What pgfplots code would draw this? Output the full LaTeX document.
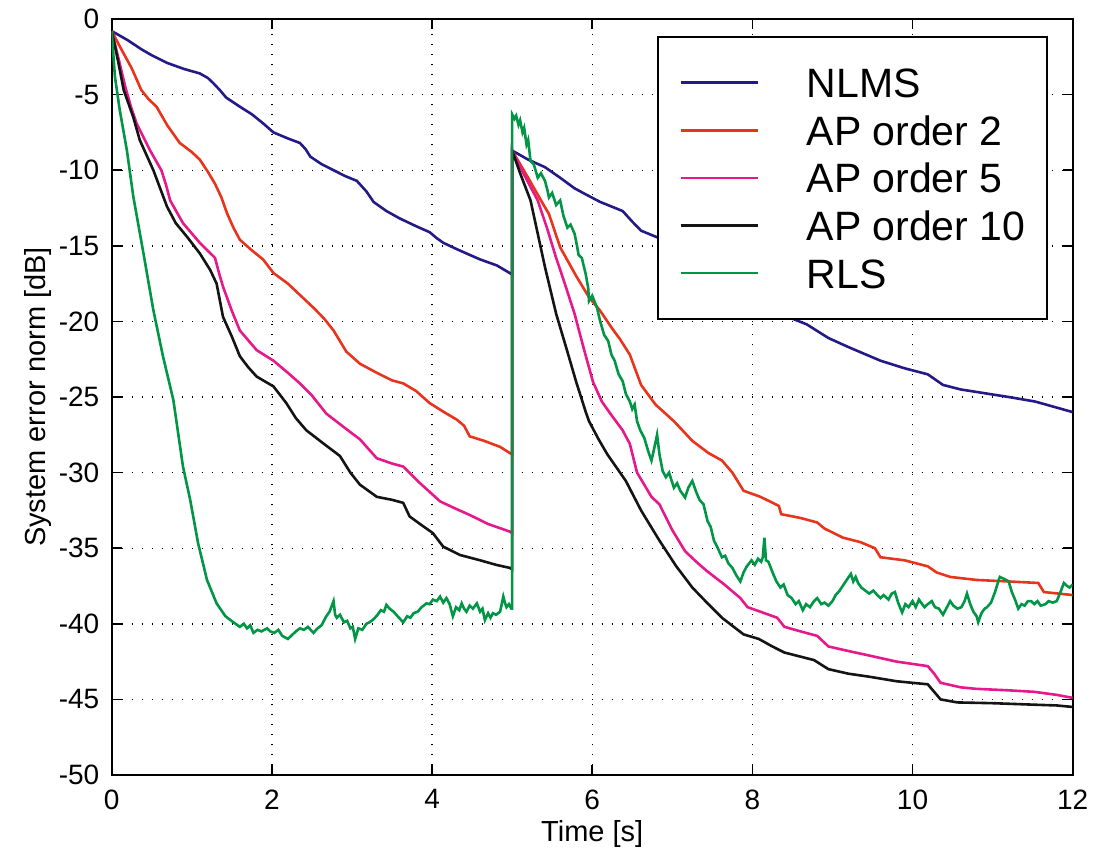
\documentclass[border=0pt]{standalone}
\usepackage{fontspec}
\setmainfont{Liberation Sans}
\usepackage{pgfplots}
\pgfplotsset{compat=1.18}
\definecolor{cNLMS}{RGB}{35,25,135}
\definecolor{cAPtwo}{RGB}{232,52,28}
\definecolor{cAPfive}{RGB}{230,25,140}
\definecolor{cAPten}{RGB}{20,20,20}
\definecolor{cRLS}{RGB}{0,150,70}
\begin{document}
\begin{tikzpicture}
\useasboundingbox (-55.85pt,-39pt) rectangle (492.65pt,387.5pt);
\begin{axis}[
  at={(0,0)}, anchor=south west,
  width=480.5pt, height=378pt, scale only axis,
  xmin=0, xmax=12, ymin=-50, ymax=0,
  xtick={0,2,4,6,8,10,12},
  xticklabels={0,2,4,6,8,10,12},
  ytick={-50,-45,-40,-35,-30,-25,-20,-15,-10,-5,0},
  yticklabels={-50,-45,-40,-35,-30,-25,-20,-15,-10,-5,0},
  tick align=inside, major tick length=5pt,
  tick style={black, line width=0.8pt},
  axis line style={black, line width=1pt},
  grid=major,
  major grid style={black, line width=0.7pt, dash pattern=on 0.7pt off 4.3pt},
  ticklabel style={font=\fontsize{14}{16}\selectfont},
  xticklabel style={yshift=-3.8pt},
  yticklabel style={xshift=-2.7pt},
  xlabel={Time [s]},
  ylabel={System error norm [dB]},
  label style={font=\fontsize{14.5}{17}\selectfont},
  xlabel style={at={(axis description cs:0.5,-0.0886)}, anchor=base},
  ylabel style={at={(axis description cs:-0.0694,0.5)}, anchor=base},
  legend image code/.code={\draw[#1] (0pt,0pt) -- (38.5pt,0pt); \path[draw=none,fill=none] (0pt,0pt) -- (63pt,0pt);},
  legend cell align=left,
  legend style={at={(axis cs:11.69,-1.12)}, anchor=north east, draw=black, line width=0.8pt, fill=white,
    inner xsep=10.8pt, inner ysep=15pt, row sep=7.8pt,
    font=\fontsize{20.5}{24}\selectfont,
    nodes={inner sep=0pt, text height=15.5pt, text depth=0.5pt}},
  every axis plot/.append style={line width=1.3pt},
]
\addplot[cNLMS] coordinates {
(0,-0.8) (0.2,-1.4) (0.37,-2.0) (0.5,-2.4) (0.69,-2.9) (0.9,-3.3) (1.1,-3.6) (1.2,-3.9) (1.27,-4.25) (1.35,-4.7) (1.43,-5.2) (1.6,-5.8) (1.75,-6.3) (1.89,-6.9) (2.02,-7.5) (2.2,-7.9) (2.35,-8.2) (2.42,-8.6) (2.48,-9.1) (2.62,-9.6) (2.77,-10.0) (2.92,-10.4) (3.06,-10.7) (3.18,-11.4) (3.27,-12.1) (3.43,-12.7) (3.6,-13.2) (3.8,-13.7) (3.97,-14.1) (4.06,-14.5) (4.14,-14.8) (4.3,-15.2) (4.47,-15.6) (4.6,-15.9) (4.81,-16.3) (4.97,-16.8) (5.0,-16.9)
(5.0,-8.7) (5.2,-9.3) (5.41,-9.8) (5.6,-10.5) (5.78,-11.2) (5.92,-11.6) (6.1,-12.1) (6.24,-12.4) (6.38,-12.7) (6.5,-13.4) (6.61,-14.0) (6.84,-14.5) (7.2,-15.5) (7.6,-17.0) (8.0,-18.4) (8.35,-19.5) (8.68,-20.2) (8.95,-21.1) (9.2,-21.7) (9.6,-22.6) (9.9,-23.1) (10.19,-23.5) (10.38,-24.2) (10.6,-24.5) (10.84,-24.7) (11.2,-25.0) (11.53,-25.3) (11.8,-25.7) (12,-26.0)
};
\addlegendentry{NLMS}
\addplot[cAPtwo] coordinates {
(0,-0.8) (0.12,-2.0) (0.25,-3.26) (0.37,-4.7) (0.46,-5.3) (0.56,-5.8) (0.69,-7.0) (0.85,-8.2) (1.0,-8.8) (1.1,-9.3) (1.2,-10.1) (1.29,-10.9) (1.37,-11.8) (1.44,-12.85) (1.52,-13.8) (1.6,-14.6) (1.75,-15.3) (1.89,-15.9) (2.02,-16.8) (2.2,-17.5) (2.35,-18.25) (2.52,-19.1) (2.65,-19.8) (2.77,-20.6) (2.85,-21.3) (2.93,-22.0) (3.1,-22.8) (3.31,-23.4) (3.5,-23.9) (3.64,-24.1) (3.8,-24.6) (3.97,-25.4) (4.15,-26.0) (4.31,-26.5) (4.4,-26.9) (4.47,-27.6) (4.65,-27.9) (4.85,-28.3) (4.97,-28.7) (5.0,-28.8)
(5.0,-8.7) (5.2,-10.5) (5.35,-11.9) (5.46,-12.9) (5.6,-15.1) (5.8,-17.0) (5.96,-18.4) (6.1,-19.3) (6.24,-20.4) (6.35,-21.2) (6.47,-22.2) (6.54,-23.2) (6.61,-24.2) (6.79,-25.5) (7.02,-26.6) (7.25,-27.9) (7.45,-28.7) (7.62,-29.2) (7.75,-30.0) (7.89,-31.2) (8.1,-31.6) (8.33,-32.2) (8.36,-32.75) (8.6,-33.0) (8.81,-33.3) (8.9,-33.7) (9.13,-34.3) (9.35,-34.6) (9.53,-35.0) (9.6,-35.6) (9.9,-35.8) (10.19,-36.2) (10.3,-36.6) (10.47,-36.9) (10.8,-37.1) (11.2,-37.2) (11.57,-37.3) (11.64,-37.9) (12,-38.1)
};
\addlegendentry{AP order 2}
\addplot[cAPfive] coordinates {
(0,-0.8) (0.08,-2.5) (0.17,-4.5) (0.24,-5.8) (0.31,-6.9) (0.48,-8.7) (0.62,-10.0) (0.68,-11.0) (0.73,-12.0) (0.89,-13.5) (1.1,-14.8) (1.29,-15.8) (1.34,-16.8) (1.39,-17.7) (1.5,-19.3) (1.6,-20.6) (1.81,-21.9) (2.02,-22.6) (2.2,-23.4) (2.35,-24.1) (2.5,-24.9) (2.68,-26.1) (2.9,-27.0) (3.1,-27.8) (3.31,-29.05) (3.5,-29.4) (3.64,-29.6) (3.85,-30.7) (4.1,-31.9) (4.3,-32.4) (4.47,-32.8) (4.7,-33.4) (4.97,-33.9) (5.0,-34.0)
(5.0,-8.7) (5.15,-10.3) (5.32,-12.0) (5.44,-13.9) (5.55,-15.8) (5.67,-17.7) (5.78,-19.5) (5.9,-21.9) (6.01,-24.0) (6.12,-25.3) (6.24,-26.2) (6.38,-27.2) (6.47,-28.1) (6.56,-30.0) (6.74,-31.6) (6.84,-32.1) (7.0,-33.8) (7.16,-35.2) (7.3,-35.9) (7.43,-36.5) (7.65,-37.4) (7.85,-38.3) (7.94,-38.9) (8.1,-39.2) (8.31,-39.6) (8.4,-40.2) (8.6,-40.5) (8.81,-40.8) (8.95,-41.5) (9.2,-41.8) (9.46,-42.1) (9.8,-42.5) (10.19,-42.8) (10.27,-43.3) (10.35,-43.9) (10.6,-44.2) (10.79,-44.3) (11.2,-44.4) (11.52,-44.5) (11.8,-44.7) (12,-44.9)
};
\addlegendentry{AP order 5}
\addplot[cAPten] coordinates {
(0,-0.8) (0.08,-2.8) (0.15,-4.7) (0.27,-6.5) (0.35,-8.0) (0.52,-10.0) (0.69,-12.4) (0.8,-13.5) (0.94,-14.4) (1.1,-15.5) (1.23,-16.6) (1.31,-17.5) (1.39,-19.7) (1.5,-21.0) (1.6,-22.3) (1.7,-23.0) (1.81,-23.65) (2.02,-24.3) (2.18,-25.4) (2.3,-26.4) (2.43,-27.2) (2.65,-28.1) (2.85,-28.9) (2.98,-30.0) (3.1,-30.8) (3.31,-31.6) (3.5,-31.8) (3.64,-32.0) (3.72,-32.9) (3.85,-33.4) (4.01,-34.0) (4.14,-34.9) (4.35,-35.45) (4.6,-35.8) (4.8,-36.1) (4.97,-36.3) (5.0,-36.4)
(5.0,-8.7) (5.1,-10.2) (5.23,-12.0) (5.32,-14.2) (5.41,-16.4) (5.55,-19.5) (5.69,-22.0) (5.8,-24.0) (5.92,-26.0) (5.96,-26.6) (6.08,-27.8) (6.19,-28.8) (6.42,-30.55) (6.61,-32.5) (6.84,-34.5) (7.05,-36.2) (7.25,-37.6) (7.45,-38.7) (7.62,-39.6) (7.89,-40.7) (8.08,-41.0) (8.25,-41.5) (8.4,-41.9) (8.77,-42.4) (8.95,-43.0) (9.2,-43.3) (9.46,-43.5) (9.8,-43.8) (10.19,-44.0) (10.27,-44.5) (10.35,-45.0) (10.56,-45.2) (11.0,-45.25) (11.52,-45.35) (11.8,-45.4) (12,-45.5)
};
\addlegendentry{AP order 10}
\addplot[cRLS] coordinates {
(0,-0.8) (0.04,-3.8) (0.1,-6.0) (0.19,-8.7) (0.27,-11.75) (0.39,-15.3) (0.52,-19.25) (0.64,-22.3) (0.77,-25.2) (0.89,-29.6) (0.98,-31.8) (1.08,-34.7) (1.19,-37.1) (1.31,-38.65) (1.42,-39.5) (1.52,-39.9) (1.6,-40.2) (1.65,-40.0) (1.69,-40.3) (1.73,-40.1) (1.77,-40.6) (1.82,-40.4) (1.87,-40.5) (1.94,-40.3) (1.98,-40.5) (2.03,-40.6) (2.08,-40.4) (2.13,-40.8) (2.2,-41.0) (2.26,-40.7) (2.3,-40.5) (2.35,-40.3) (2.4,-40.4) (2.45,-40.2) (2.52,-40.6) (2.57,-40.3) (2.62,-40.1) (2.68,-39.5) (2.72,-39.2) (2.77,-38.5) (2.79,-39.4) (2.81,-39.6) (2.85,-39.4) (2.9,-39.9) (2.94,-39.8) (2.98,-40.3) (3.01,-40.2) (3.04,-41.0) (3.08,-40.3) (3.13,-40.4) (3.18,-40.0) (3.22,-39.9) (3.27,-39.7) (3.32,-39.4) (3.36,-39.1) (3.4,-39.2) (3.43,-38.75) (3.47,-39.0) (3.52,-39.2) (3.57,-39.5) (3.64,-39.9) (3.69,-39.5) (3.73,-39.6) (3.77,-39.3) (3.82,-39.2) (3.87,-38.9) (3.93,-38.65) (3.97,-38.7) (4.01,-38.4) (4.06,-38.5) (4.1,-38.2) (4.14,-38.6) (4.18,-38.3) (4.22,-38.7) (4.26,-39.5) (4.3,-38.9) (4.34,-39.1) (4.37,-38.65) (4.4,-39.0) (4.43,-39.2) (4.47,-38.8) (4.51,-39.0) (4.56,-38.65) (4.6,-39.2) (4.63,-39.0) (4.66,-39.75) (4.7,-39.3) (4.73,-39.6) (4.76,-39.3) (4.8,-39.4) (4.85,-39.2) (4.89,-38.2) (4.91,-38.6) (4.93,-38.9) (4.96,-38.7) (4.99,-39.0) (5.0,-39.0)
(5.0,-6.3) (5.03,-6.6) (5.05,-6.4) (5.08,-7.0) (5.1,-6.7) (5.13,-7.5) (5.15,-7.2) (5.18,-8.3) (5.2,-8.0) (5.23,-9.4) (5.27,-9.6) (5.32,-10.5) (5.36,-10.2) (5.41,-10.7) (5.44,-11.3) (5.46,-11.8) (5.5,-11.5) (5.55,-12.3) (5.6,-12.0) (5.64,-13.0) (5.69,-13.8) (5.73,-13.6) (5.78,-14.2) (5.81,-15.0) (5.83,-15.6) (5.87,-15.8) (5.92,-16.9) (5.95,-17.8) (5.96,-18.65) (6.0,-18.3) (6.06,-19.1) (6.1,-20.0) (6.15,-20.9) (6.2,-21.3) (6.24,-22.2) (6.28,-22.6) (6.33,-23.5) (6.38,-23.95) (6.42,-24.8) (6.47,-25.3) (6.5,-25.8) (6.53,-25.5) (6.56,-26.6) (6.6,-27.2) (6.65,-27.7) (6.7,-28.6) (6.74,-29.2) (6.77,-28.5) (6.81,-27.5) (6.84,-28.8) (6.88,-29.9) (6.92,-30.3) (6.96,-30.0) (7.02,-31.0) (7.06,-30.7) (7.1,-31.2) (7.16,-31.65) (7.2,-31.0) (7.25,-30.55) (7.3,-31.3) (7.34,-31.8) (7.39,-32.1) (7.44,-33.2) (7.48,-33.6) (7.52,-34.5) (7.56,-34.9) (7.62,-35.6) (7.66,-35.5) (7.7,-36.0) (7.75,-36.3) (7.8,-36.8) (7.85,-37.2) (7.89,-36.6) (7.93,-36.2) (7.99,-35.8) (8.03,-36.1) (8.07,-35.7) (8.11,-35.9) (8.13,-35.6) (8.15,-34.3) (8.17,-35.8) (8.2,-35.9) (8.23,-36.3) (8.26,-36.7) (8.3,-37.2) (8.35,-37.6) (8.39,-37.4) (8.44,-38.1) (8.49,-38.3) (8.54,-38.7) (8.58,-38.5) (8.63,-39.1) (8.67,-38.7) (8.72,-38.9) (8.77,-38.5) (8.81,-38.3) (8.86,-38.7) (8.9,-38.6) (8.95,-38.8) (9.0,-38.5) (9.04,-38.1) (9.09,-37.8) (9.14,-37.4) (9.19,-37.0) (9.23,-36.7) (9.26,-37.2) (9.29,-36.9) (9.32,-37.3) (9.36,-37.6) (9.41,-37.8) (9.46,-38.0) (9.51,-37.8) (9.56,-38.1) (9.6,-38.3) (9.64,-38.1) (9.7,-38.4) (9.74,-38.0) (9.78,-37.9) (9.82,-38.6) (9.87,-39.25) (9.91,-38.7) (9.95,-38.9) (10.0,-38.5) (10.04,-38.9) (10.08,-38.4) (10.12,-38.7) (10.15,-38.9) (10.19,-38.7) (10.24,-38.5) (10.28,-38.9) (10.33,-39.0) (10.38,-39.4) (10.42,-39.0) (10.47,-38.5) (10.51,-38.8) (10.56,-39.0) (10.61,-38.9) (10.65,-38.5) (10.68,-38.0) (10.72,-38.7) (10.76,-39.2) (10.8,-39.5) (10.82,-39.9) (10.86,-39.3) (10.9,-39.0) (10.93,-38.9) (10.98,-38.6) (11.03,-37.9) (11.07,-37.2) (11.09,-36.9) (11.13,-37.0) (11.17,-37.1) (11.2,-37.2) (11.24,-37.9) (11.28,-38.4) (11.32,-39.0) (11.36,-38.7) (11.4,-38.8) (11.44,-38.5) (11.48,-38.5) (11.52,-38.7) (11.56,-38.5) (11.6,-38.8) (11.66,-38.7) (11.7,-38.5) (11.75,-38.6) (11.8,-38.5) (11.84,-38.0) (11.89,-37.3) (11.93,-37.5) (11.96,-37.6) (12.0,-37.4)
};
\addlegendentry{RLS}
\end{axis}
\end{tikzpicture}
\end{document}
